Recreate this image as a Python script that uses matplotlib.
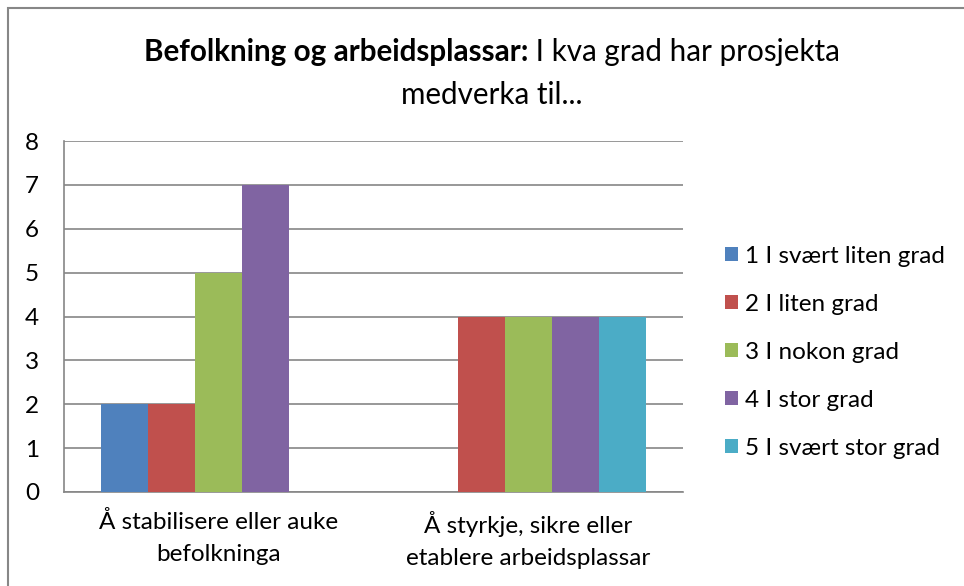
import matplotlib
matplotlib.use("Agg")
import matplotlib.pyplot as plt
from matplotlib.patches import Rectangle
import numpy as np

categories = ["Å stabilisere eller auke\nbefolkninga", "Å styrkje, sikre eller\netablere arbeidsplassar"]
series_names = ["1 I svært liten grad", "2 I liten grad", "3 I nokon grad", "4 I stor grad", "5 I svært stor grad"]
values = {
    "1 I svært liten grad": [2, 0],
    "2 I liten grad": [2, 4],
    "3 I nokon grad": [5, 4],
    "4 I stor grad": [7, 4],
    "5 I svært stor grad": [0, 4],
}
colors = ["#4F81BD", "#C0504D", "#9BBB59", "#8064A2", "#4BACC6"]
yticks = [0, 1, 2, 3, 4, 5, 6, 7, 8]

plt.rcParams['font.family'] = ['Lato', 'DejaVu Sans']

W, H = 964, 586
fig = plt.figure(figsize=(W/100, H/100), dpi=100)
fig.patches.append(Rectangle((8/W, 1 - 600/H), (980-8)/W, (600-8)/H, transform=fig.transFigure,
                             fill=False, edgecolor="#878787", linewidth=1.5))

ax = fig.add_axes([64/W, 1 - 492/H, (683-64)/W, (492-141)/H])
x = np.arange(len(categories))
bw = 0.152
n = len(series_names)
handles = []
for i, name in enumerate(series_names):
    b = ax.bar(x + (i - (n-1)/2) * bw, values[name], width=bw, color=colors[i], label=name,
               linewidth=0, zorder=3)
    handles.append(b)

FS = 17.5
ax.set_xlim(-0.5, len(categories) - 0.5)
ax.set_ylim(0, 8)
ax.set_yticks(yticks)
ax.set_yticklabels([str(v) for v in yticks], fontsize=FS)
ax.yaxis.grid(True, color="#868686", linewidth=1.2, zorder=0)
ax.set_axisbelow(True)
for s in ["top", "right"]:
    ax.spines[s].set_visible(False)
for s in ["left", "bottom"]:
    ax.spines[s].set_color("#868686")
    ax.spines[s].set_linewidth(1.2)
ax.tick_params(axis="y", length=0, pad=18)
ax.tick_params(axis="x", length=0, pad=14)
ax.set_xticks(x)
ax.set_xticklabels(categories, fontsize=FS, linespacing=1.62)

leg = ax.legend(handles=handles, labels=series_names, loc="upper left",
                bbox_to_anchor=(715/W, 1 - 236/H), bbox_transform=fig.transFigure,
                frameon=False, fontsize=FS, handlelength=0.55, handleheight=0.55,
                handletextpad=0.3, labelspacing=1.11, borderaxespad=0)

# Title with mixed bold / normal on first line
fig.canvas.draw()
renderer = fig.canvas.get_renderer()
TFS = 21.3
bold_part = "Befolkning og arbeidsplassar:"
normal_part = " I kva grad har prosjekta"
t1 = fig.text(0, 0, bold_part, fontsize=TFS, fontweight="bold", va="center")
t2 = fig.text(0, 0, normal_part, fontsize=TFS, va="center")
w1 = t1.get_window_extent(renderer).width
w2 = t2.get_window_extent(renderer).width
cx = 492
y1 = 1 - 52/H
start = cx - (w1 + w2) / 2
t1.set_position((start / W, y1))
t2.set_position(((start + w1) / W, y1))
fig.text(cx / W, 1 - 95/H, "medverka til...", fontsize=TFS, ha="center", va="center")

fig.savefig("out.png", dpi=100)
